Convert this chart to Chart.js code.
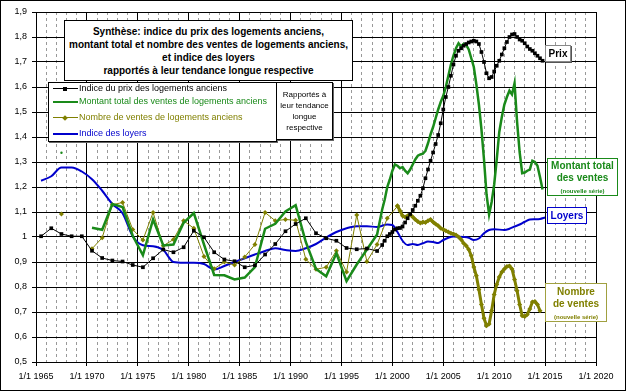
<!DOCTYPE html>
<html>
<head>
<meta charset="utf-8">
<script src="https://cdn.jsdelivr.net/npm/chart.js@4.4.1/dist/chart.umd.min.js"></script>
<style>
  html, body { margin: 0; padding: 0; background: #fff; }
  #wrap { position: relative; width: 626px; height: 391px; font-family: "Liberation Sans", Arial, sans-serif; }
  #cadre { position: absolute; left: 0; top: 0; width: 626px; height: 391px; box-sizing: border-box; border: 1px solid #000; pointer-events: none; }
  canvas { position: absolute; left: 0; top: 0; }
  .boite { position: absolute; background: #fff; box-sizing: border-box; text-align: center; }
  #titre { left: 64px; top: 20px; width: 289px; height: 61px; border: 1px solid #000; font-weight: bold; font-size: 10px; line-height: 13px; padding-top: 4px; }
  #legende { left: 48px; top: 82px; width: 229px; height: 60px; border: 1px solid #000; box-shadow: 1px 1px 0 #666; text-align: left; }
  #legende .item { position: absolute; left: 4px; font-size: 9px; white-space: nowrap; }
  #legende .trait { display: inline-block; position: relative; width: 25px; height: 0; vertical-align: middle; margin-right: 1px; }
  #legende .pt { position: absolute; left: 10px; top: -2px; width: 4px; height: 4px; }
  #rapportes { left: 276px; top: 82px; width: 57px; height: 58px; border: 1px solid #000; box-shadow: 1px 1px 0 #666; font-size: 8px; line-height: 11px; padding-top: 6px; }
  #prix { left: 545px; top: 45px; width: 26px; height: 17px; border: 1px solid #888; box-shadow: 1px 1px 0 #555; font-weight: bold; font-size: 10px; line-height: 15px; }
  #montant { left: 547px; top: 158px; width: 71px; height: 38px; border: 1px solid #1a8a1a; color: #1a8a1a; font-weight: bold; font-size: 10px; line-height: 12px; padding-top: 1px; }
  #loyers { left: 547px; top: 207px; width: 40px; height: 17px; border: 1px solid #0000cc; color: #0000cc; font-weight: bold; font-size: 10px; line-height: 15px; }
  #nombre { left: 545px; top: 283px; width: 62px; height: 39px; border: 1px solid #a0a040; color: #808000; font-weight: bold; font-size: 10px; line-height: 12px; padding-top: 2px; }
  .petit { font-size: 6px; line-height: 8px; }
</style>
</head>
<body>
<div id="wrap">
  <canvas id="graphique" width="626" height="391"></canvas>

  <div class="boite" id="titre">Synthèse: indice du prix des logements anciens,<br>montant total et nombre des ventes de logements anciens,<br>et indice des loyers<br>rapportés à leur tendance longue respective</div>

  <div class="boite" id="legende">
    <div class="item" style="top:0px;color:#000"><span class="trait" style="border-top:1px solid #000"><span class="pt" style="background:#000"></span></span>Indice du prix des logements anciens</div>
    <div class="item" style="top:13px;color:#1a8a1a"><span class="trait" style="border-top:2px solid #1a8a1a"></span>Montant total des ventes de logements anciens</div>
    <div class="item" style="top:29px;color:#808000"><span class="trait" style="border-top:1px solid #808000"><span class="pt" style="background:#808000;transform:rotate(45deg)"></span></span>Nombre de ventes de logements anciens</div>
    <div class="item" style="top:45px;color:#0000cc"><span class="trait" style="border-top:2px solid #0000cc"></span>Indice des loyers</div>
  </div>

  <div class="boite" id="rapportes">Rapportés à<br>leur tendance<br>longue<br>respective</div>
  <div class="boite" id="prix">Prix</div>
  <div class="boite" id="montant">Montant total<br>des ventes<br><span class="petit">(nouvelle série)</span></div>
  <div class="boite" id="loyers">Loyers</div>
  <div class="boite" id="nombre">Nombre<br>de ventes<br><span class="petit">(nouvelle série)</span></div>

  <div id="cadre"></div>
</div>

<script>
// Indice du prix : annuel puis trimestriel
const prixAnnees = [1965.5, 1966.5, 1967.5, 1968.5, 1969.5, 1970.5, 1971.5, 1972.5, 1973.5, 1974.5,
    1975.5, 1976.5, 1977.5, 1978.5, 1979.5, 1980.5, 1981.5, 1982.5, 1983.5, 1984.5,
    1985.5, 1986.5, 1987.5, 1988.5, 1989.5, 1990.5, 1991.5, 1992.5, 1993.5, 1994.5,
    1995.5, 1996.5, 1997.5, 1998.5];
const prixAnnuel = [1.003, 1.035, 1.012, 1.003, 1.003, 0.945, 0.916, 0.906, 0.902, 0.888,
    0.879, 0.915, 0.95, 0.939, 0.959, 1.025, 0.999, 0.939, 0.91, 0.903,
    0.879, 0.887, 0.93, 0.972, 1.023, 1.052, 1.075, 1.015, 0.995, 0.985,
    0.956, 0.951, 0.954, 0.944];
const prixTrimDebut = 1999.0;
const prixTrim = [0.968, 0.985, 1.003, 1.012, 1.02, 1.03, 1.035, 1.036,
    1.042, 1.058, 1.075, 1.092, 1.108, 1.125, 1.145, 1.165,
    1.195, 1.235, 1.27, 1.305, 1.338, 1.372, 1.408, 1.455,
    1.51, 1.56, 1.6, 1.645, 1.69, 1.725, 1.745, 1.755,
    1.765, 1.772, 1.778, 1.782, 1.785, 1.782, 1.772, 1.74,
    1.7, 1.655, 1.635, 1.64, 1.662, 1.685, 1.705, 1.73,
    1.755, 1.78, 1.8, 1.81, 1.812, 1.8, 1.79, 1.785,
    1.775, 1.762, 1.752, 1.745, 1.735, 1.725, 1.715, 1.705];

// Montant total des ventes
const montantAnnees = [1967.5, 1969.5, 1970.5, 1971.5, 1972.5, 1973.5, 1974.5, 1975.5, 1976.5, 1977.5,
    1978.5, 1979.5, 1980.5, 1981.5, 1982.5, 1983.5, 1984.5, 1985.5, 1986.5, 1987.5,
    1988.5, 1989.5, 1990.5, 1991.5, 1992.5, 1993.5, 1994.5, 1995.5, 1996.5, 1997.5, 1998.5];
const montantAnnuel = [1.337, null, 1.037, 1.029, 1.132, 1.12, 1.005, 0.927, 1.07, 0.966,
    0.97, 1.057, 1.096, 0.97, 0.848, 0.847, 0.83, 0.838, 0.88, 1.033,
    1.053, 1.102, 1.127, 0.98, 0.872, 0.843, 0.935, 0.823, 0.89, 0.95, 1.01];
const montantTrimDebut = 1999.0;
const montantTrim = [1.11, 1.15, 1.2, 1.23, 1.265, 1.29, 1.285, 1.275,
    1.28, 1.265, 1.255, 1.27, 1.29, 1.31, 1.325, 1.33,
    1.333, 1.345, 1.375, 1.41, 1.44, 1.475, 1.51, 1.54,
    1.565, 1.6, 1.645, 1.69, 1.725, 1.755, 1.775, 1.762,
    1.772, 1.768, 1.75, 1.715, 1.68, 1.61, 1.53, 1.43,
    1.31, 1.17, 1.09, 1.14, 1.21, 1.31, 1.42, 1.48,
    1.53, 1.56, 1.585, 1.57, 1.615, 1.46, 1.34, 1.255,
    1.258, 1.265, 1.27, 1.305, 1.3, 1.285, 1.24, 1.19];

// Nombre de ventes : ancienne série (annuelle)
const nombreAnnees = [1967.5, 1969.5, 1970.5, 1971.5, 1972.5, 1973.5, 1974.5, 1975.5, 1976.5, 1977.5,
    1978.5, 1979.5, 1980.5, 1981.5, 1982.5, 1983.5, 1984.5, 1985.5, 1986.5, 1987.5,
    1988.5, 1989.5, 1990.5, 1991.5, 1992.5, 1993.5, 1994.5, 1995.5, 1996.5, 1997.5,
    1998.5, 1999.5, 2000.5];
const nombreAnnuel = [1.092, null, 0.953, 0.997, 1.129, 1.138, 1.03, 0.988, 1.098, 0.965,
    0.99, 1.065, 1.035, 0.922, 0.873, 0.9, 0.888, 0.92, 0.97, 1.098,
    1.065, 1.07, 1.067, 0.911, 0.871, 0.879, 0.945, 0.86, 1.088, 0.902,
    0.97, 1.075, 1.123];
// Nombre de ventes : nouvelle série (trimestrielle)
const nombreTrimDebut = 2000.5;
const nombreTrim = [1.125, 1.105, 1.085, 1.08, 1.085, 1.09, 1.08, 1.07,
    1.062, 1.056, 1.06, 1.058, 1.065, 1.07, 1.06, 1.052,
    1.045, 1.035, 1.03, 1.025, 1.02, 1.015, 1.012, 1.008,
    1.0, 0.99, 0.975, 0.965, 0.95, 0.925, 0.88, 0.845,
    0.79, 0.73, 0.675, 0.645, 0.652, 0.705, 0.77, 0.81,
    0.84, 0.86, 0.872, 0.882, 0.884, 0.872, 0.83, 0.785,
    0.73, 0.685, 0.682, 0.69, 0.712, 0.74, 0.742, 0.73, 0.705];

// Indice des loyers
const loyersAnnees = [1965.5, 1966.5, 1967.5, 1968.5, 1969.5, 1970.5, 1971.5, 1972.5, 1973.5, 1974.5,
    1975.5, 1976.5, 1977.5, 1978.5, 1979.5, 1980.5, 1981.5, 1982.5, 1983.5, 1984.5,
    1985.5, 1986.5, 1987.5, 1988.5, 1989.5, 1990.5, 1991.5, 1992.5, 1993.5, 1994.5,
    1995.5, 1996.5, 1997.5, 1998.5, 1999.5, 2000.0, 2000.5, 2001.0, 2001.5, 2002.0,
    2002.5, 2003.0, 2003.5, 2004.0, 2004.5, 2005.0, 2005.5, 2006.0, 2007.0, 2007.5,
    2008.0, 2008.5, 2009.0, 2009.5, 2010.0, 2011.0, 2011.5, 2012.0, 2012.5, 2013.0,
    2013.5, 2014.0, 2014.5, 2015.0];
const loyers = [1.225, 1.243, 1.278, 1.278, 1.262, 1.231, 1.185, 1.132, 1.095, 1.003,
    0.967, 0.963, 0.948, 0.9, 0.897, 0.897, 0.892, 0.87, 0.884, 0.9,
    0.915, 0.93, 0.944, 0.955, 0.948, 0.944, 0.955, 0.972, 0.998, 1.02,
    1.035, 1.043, 1.043, 1.04, 1.05, 1.048, 1.02, 0.985, 0.968, 0.972,
    0.968, 0.975, 0.982, 0.98, 0.976, 0.988, 0.997, 1.002, 1.0, 0.997,
    0.988, 0.994, 1.015, 1.028, 1.031, 1.028, 1.033, 1.042, 1.05, 1.061,
    1.07, 1.071, 1.072, 1.078];

const noir = '#000000';
const vert = '#1a8a1a';
const olive = '#808000';
const bleu = '#0000cc';

function points(annees, valeurs) {
    return valeurs.map((v, i) => ({ x: annees[i], y: v }));
}
function pointsTrim(debut, valeurs) {
    return valeurs.map((v, i) => ({ x: debut + i * 0.25, y: v }));
}

const ctx = document.getElementById('graphique').getContext('2d');
new Chart(ctx, {
    type: 'line',
    data: {
        datasets: [
            {
                label: 'Indice du prix des logements anciens',
                data: points(prixAnnees, prixAnnuel).concat(pointsTrim(prixTrimDebut, prixTrim)),
                borderColor: noir,
                backgroundColor: noir,
                borderWidth: 1,
                pointStyle: 'rect',
                pointRadius: 2.6,
                pointBorderWidth: 0,
                order: 0
            },
            {
                label: 'Nombre de ventes (nouvelle série)',
                data: pointsTrim(nombreTrimDebut, nombreTrim),
                borderColor: olive,
                backgroundColor: olive,
                borderWidth: 3,
                pointStyle: 'rectRot',
                pointRadius: 2.5,
                pointBorderWidth: 0,
                order: 1
            },
            {
                label: 'Montant total des ventes de logements anciens',
                data: points(montantAnnees, montantAnnuel).concat(pointsTrim(montantTrimDebut, montantTrim)),
                borderColor: vert,
                backgroundColor: vert,
                borderWidth: 2.5,
                pointRadius: c => (c.raw && c.raw.x === 1967.5 ? 1.2 : 0),
                pointBorderWidth: 0,
                spanGaps: false,
                order: 2
            },
            {
                label: 'Nombre de ventes de logements anciens',
                data: points(nombreAnnees, nombreAnnuel),
                borderColor: olive,
                backgroundColor: olive,
                borderWidth: 1,
                pointStyle: 'rectRot',
                pointRadius: 2.5,
                pointBorderWidth: 0,
                spanGaps: false,
                order: 3
            },
            {
                label: 'Indice des loyers',
                data: points(loyersAnnees, loyers),
                borderColor: bleu,
                borderWidth: 2,
                pointRadius: 0,
                cubicInterpolationMode: 'monotone',
                order: 4
            }
        ]
    },
    options: {
        responsive: false,
        devicePixelRatio: 1,
        animation: false,
        layout: { padding: { top: 12, right: 30, left: 0, bottom: 0 } },
        plugins: {
            legend: { display: false },
            tooltip: { enabled: false }
        },
        scales: {
            x: {
                type: 'linear',
                min: 1965,
                max: 2020,
                afterFit: s => { s.height = 29; },
                ticks: {
                    stepSize: 1,
                    autoSkip: false,
                    maxRotation: 0,
                    padding: 5,
                    color: '#000',
                    font: { family: 'Liberation Sans', size: 9 },
                    callback: v => (v % 5 === 0 ? '1/1 ' + v : '')
                },
                grid: {
                    color: c => (c.tick && c.tick.value % 5 === 0 ? '#000' : '#999'),
                    lineWidth: 1,
                    tickLength: 4,
                    tickColor: c => (c.tick && c.tick.value % 5 === 0 ? '#000' : 'rgba(0,0,0,0)')
                },
                border: {
                    color: '#000',
                    dash: c => (c.tick && c.tick.value % 5 !== 0 ? [3, 3] : [])
                }
            },
            y: {
                min: 0.5,
                max: 1.9,
                afterFit: s => { s.width = 36; },
                ticks: {
                    stepSize: 0.1,
                    padding: 5,
                    color: '#000',
                    font: { family: 'Liberation Sans', size: 9 },
                    callback: v => String(Math.round(v * 10) / 10).replace('.', ',')
                },
                grid: { color: '#000', lineWidth: 1, tickLength: 4 },
                border: { color: '#000' }
            }
        }
    }
});
</script>
</body>
</html>
